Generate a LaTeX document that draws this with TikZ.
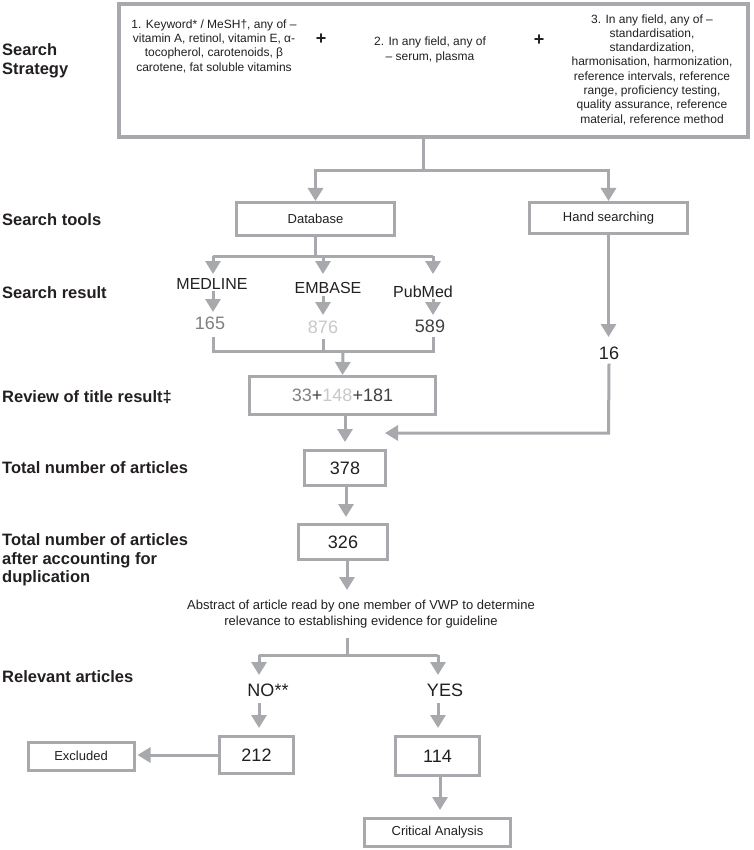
\documentclass[tikz,border=0pt]{standalone}
\usepackage{fontspec}
\setmainfont{Liberation Sans}
\usetikzlibrary{arrows.meta}
\definecolor{lg}{RGB}{167,169,172}
\definecolor{tx}{RGB}{35,31,32}
\definecolor{gmid}{RGB}{128,128,130}
\definecolor{glight}{RGB}{200,200,202}
\definecolor{gdark}{RGB}{64,64,66}
\begin{document}
\begin{tikzpicture}[x=1pt,y=-1pt,
 box/.style={draw=lg, line width=3pt, inner sep=0pt, text=tx, align=center},
 ln/.style={draw=lg, line width=3pt},
 arr/.style={ln, -{Triangle[width=15pt,length=13pt]}},
 lab/.style={anchor=west, text=tx, font=\fontsize{16.5}{18.5}\selectfont\bfseries, align=left, inner sep=0pt},
 txt/.style={text=tx, align=center, inner sep=0pt},
 small/.style={font=\fontsize{12}{14.3}\selectfont},
 mid/.style={font=\fontsize{13}{16}\selectfont},
 big/.style={font=\fontsize{18}{20}\selectfont},
 db/.style={font=\fontsize{16}{18}\selectfont},
 plus/.style={txt, font=\fontsize{18}{18}\selectfont\bfseries},
]
\useasboundingbox (0,0) rectangle (753,850);

% left labels
\node[lab] (lss) at (2,61) {Search\\Strategy};
\node[lab] (lst) at (2,220) {Search tools};
\node[lab] (lsr) at (2,293) {Search result};
\node[lab] (lrt) at (2,397) {Review of title result‡};
\node[lab] (ltn) at (2,468) {Total number of articles};
\node[lab] (ltd) at (2,560) {Total number of articles\\after accounting for\\duplication};
\node[lab] (lra) at (2,677) {Relevant articles};

% search strategy box
\node[box, line width=4pt, minimum width=629pt, minimum height=133pt] (top) at (433.5,70.5) {};
\node[txt, small] (t1) at (214,46) {1. Keyword* / MeSH†, any of –\\vitamin A, retinol, vitamin E, α-\\tocopherol, carotenoids, β\\carotene, fat soluble vitamins};
\node[plus] (p1) at (321,39) {+};
\node[txt, small] (t2) at (430,50) {2. In any field, any of\\– serum, plasma};
\node[plus] (p2) at (539,40) {+};
\node[txt, small] (t3) at (652,69.5) {3. In any field, any of –\\standardisation,\\standardization,\\harmonisation, harmonization,\\reference intervals, reference\\range, proficiency testing,\\quality assurance, reference\\material, reference method};

% search tools
\node[box, mid, minimum width=158pt, minimum height=33pt] (dbb) at (315.5,219) {Database};
\node[box, mid, minimum width=158pt, minimum height=31pt] (hs) at (608.5,218) {Hand searching};
\coordinate (j1) at (423,171);
\draw[ln] (top.south -| j1) -- (j1);
\draw[arr] (j1) -| (dbb.north);
\draw[arr] (j1) -| (hs.north);

% databases
\coordinate (j2) at (315.5,256);
\draw[ln] (dbb.south) -- (j2);
\coordinate (a1) at (213,274);
\coordinate (a2) at (323,274);
\coordinate (a3) at (433,274);
\draw[ln] (a1 |- j2) -- (a3 |- j2);
\draw[arr] (a1 |- j2) -- (a1);
\draw[arr] (a2 |- j2) -- (a2);
\draw[arr] (a3 |- j2) -- (a3);
\node[txt, db] (med) at (212,284) {MEDLINE};
\node[txt, db] (emb) at (328,288) {EMBASE};
\node[txt, db] (pub) at (423,292) {PubMed};
\node[txt, big, text=gmid] (n165) at (210,323) {165};
\node[txt, big, text=glight] (n876) at (323,327) {876};
\node[txt, big, text=gdark] (n589) at (430,326) {589};
\draw[arr] (213,291) -- (213,312);
\draw[arr] (323,296) -- (323,315);
\draw[arr] (433,299) -- (433,315);
\coordinate (j3) at (343,351);
\draw[ln] (213,337) -- (213,351) -- (433,351) -- (433,337);
\draw[ln] (323,339) -- (323,351);

% review
\node[box, big, minimum width=186pt, minimum height=38pt] (rev) at (342.5,395.5) {\textcolor{gmid}{33}\textcolor{gdark}{+}\textcolor{glight}{148}\textcolor{gdark}{+181}};
\draw[arr] (j3) -- (rev.north);

% hand searching path
\node[txt, big] (n16) at (609,353) {16};
\draw[arr] (hs.south) -- (608.5,337);
\coordinate (hc) at (608.5,433);
\coordinate (hend) at (385,433);
\draw[arr] (n16.south) ++(0,4) -- (hc) -- (hend);

% totals
\node[box, big, minimum width=81pt, minimum height=35pt] (b378) at (345,468) {378};
\node[box, big, minimum width=89pt, minimum height=35pt] (b326) at (343,542) {326};
\draw[arr, shorten >=7pt] (rev.south -| b378) -- (b378.north);
\draw[arr, shorten >=6pt] (b378.south) ++(1,0) -- (346,523);
\node[txt, mid] (abs) at (361,614) {Abstract of article read by one member of VWP to determine\\relevance to establishing evidence for guideline};
\draw[arr] (b326.south -| 347,0) -- (347,590);

% relevance
\coordinate (j4) at (347,655);
\draw[ln] (347,638) -- (j4);
\draw[ln] (259,655) -- (438,655);
\draw[arr] (259,655) -- (259,675);
\draw[arr] (438,655) -- (438,675);
\node[txt, big] (no) at (268,690) {NO**};
\node[txt, big] (yes) at (445,690) {YES};
\node[box, big, minimum width=74pt, minimum height=37pt] (b212) at (256.5,755) {212};
\node[box, big, minimum width=84pt, minimum height=39pt] (b114) at (437.5,756) {114};
\node[box, mid, minimum width=106pt, minimum height=28pt] (exc) at (81,756) {Excluded};
\node[box, mid, minimum width=146pt, minimum height=28pt] (crit) at (437.5,832.5) {Critical Analysis};
\draw[arr, shorten >=7pt] (259,703) -- (b212.north -| 259,0);
\draw[arr, shorten >=7pt] (438,703) -- (b114.north -| 438,0);
\draw[arr, shorten >=2pt] (b212.west) -- (exc.east |- b212.west);
\draw[arr, shorten >=7pt] (b114.south -| 440,0) -- (crit.north -| 440,0);
\end{tikzpicture}
\end{document}
